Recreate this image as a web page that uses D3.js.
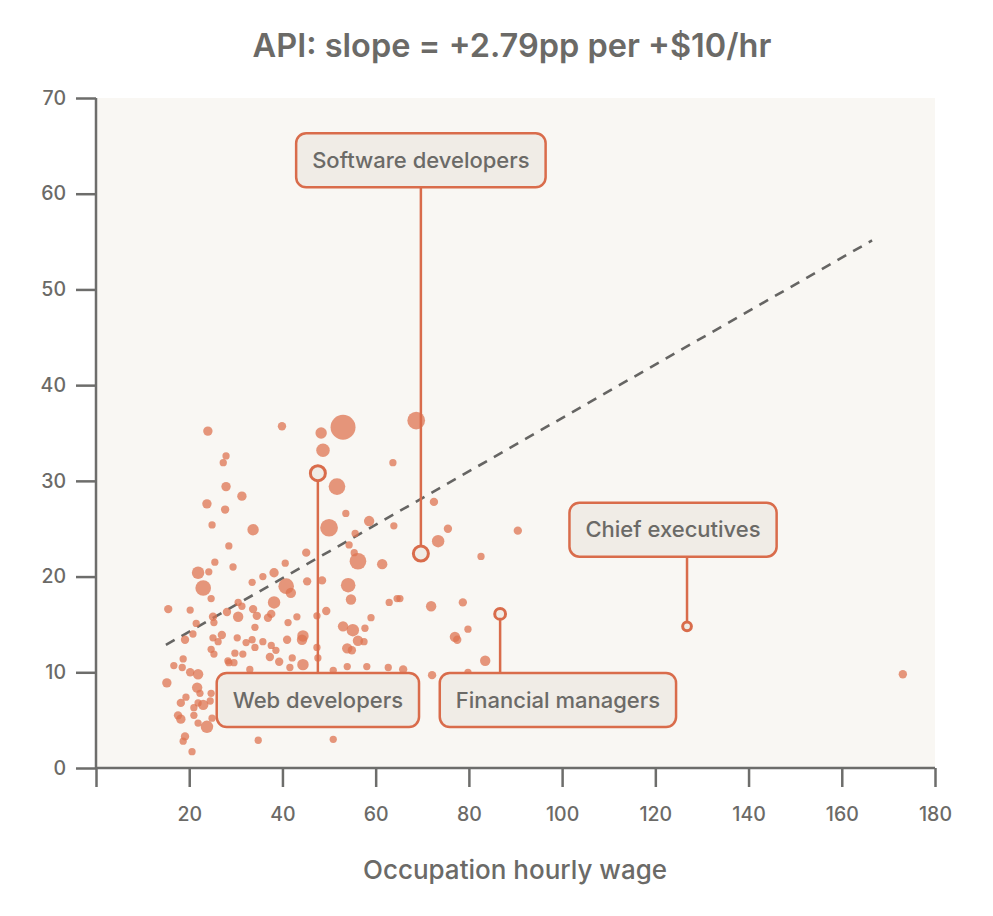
<!DOCTYPE html>
<html>
<head>
<meta charset="utf-8">
<script src="https://cdn.jsdelivr.net/npm/d3@7"></script>
<style>
  html, body { margin: 0; padding: 0; background: #ffffff; }
  svg { display: block; font-family: Inter, "Open Sans", sans-serif; }
</style>
</head>
<body>
<svg id="chart" width="993" height="916"></svg>
<script>
// ---- Data ----
const title = "API: slope = +2.79pp per +$10/hr";
const xAxisTitle = "Occupation hourly wage";
const xTicks = [0, 20, 40, 60, 80, 100, 120, 140, 160, 180];
const yTicks = [0, 10, 20, 30, 40, 50, 60, 70];

// occupation hourly wage
const wage = [
  24.0, 39.9, 53.0, 68.7, 48.3, 48.7, 27.9, 27.3, 27.9, 31.3,
  23.8, 27.7, 24.9, 33.7, 28.5, 63.7, 51.7, 53.6, 58.6, 50.0,
  55.6, 54.3, 55.4, 56.2, 45.1, 61.4, 63.9, 72.5, 73.4, 75.5,
  90.5, 82.6, 65.2, 71.9, 78.7, 79.8, 77.0, 77.5, 83.5, 65.9,
  72.1, 79.8, 25.5, 29.4, 21.9, 24.2, 40.6, 38.2, 35.8, 23.0,
  24.7, 15.5, 20.2, 30.5, 31.3, 28.1, 30.5, 33.5, 21.5, 25.1,
  25.3, 19.1, 20.8, 27.0, 25.1, 30.3, 26.2, 24.7, 25.3, 32.2,
  29.8, 31.5, 33.5, 18.7, 28.3, 29.6, 40.8, 41.8, 45.3, 38.2,
  33.7, 34.5, 37.6, 36.9, 41.2, 43.1, 34.1, 49.4, 47.4, 44.4,
  44.2, 41.0, 35.8, 37.6, 38.6, 34.1, 47.4, 42.1, 37.3, 39.3,
  47.6, 44.4, 54.1, 54.7, 62.9, 64.6, 59.0, 57.7, 55.1, 53.0,
  56.2, 57.5, 53.9, 54.9, 58.1, 62.7, 50.9, 53.9, 50.9, 16.7,
  18.5, 20.2, 21.9, 15.2, 21.7, 24.7, 22.3, 19.3, 18.2, 21.9,
  23.0, 21.0, 24.5, 17.6, 18.2, 21.0, 21.9, 23.8, 24.9, 19.1,
  18.7, 20.6, 28.5, 34.8, 173.1, 33.0, 41.6, 48.5
];
// share (%) of API usage
const share = [
  35.2, 35.7, 35.6, 36.3, 35.0, 33.2, 32.6, 31.9, 29.4, 28.4,
  27.6, 27.0, 25.4, 24.9, 23.2, 31.9, 29.4, 26.6, 25.8, 25.1,
  24.5, 23.3, 22.5, 21.6, 22.5, 21.3, 25.3, 27.8, 23.7, 25.0,
  24.8, 22.1, 17.7, 16.9, 17.3, 14.5, 13.7, 13.4, 11.2, 10.3,
  9.7, 10.0, 21.5, 21.0, 20.4, 20.5, 21.4, 20.4, 20.0, 18.8,
  17.7, 16.6, 16.5, 17.3, 16.9, 16.3, 15.8, 19.4, 15.1, 15.8,
  15.2, 13.4, 14.0, 13.9, 13.6, 13.6, 13.2, 12.4, 11.9, 13.1,
  12.0, 11.9, 13.4, 11.4, 11.2, 11.0, 19.0, 18.3, 19.5, 17.3,
  16.6, 15.9, 16.1, 15.7, 15.2, 15.8, 14.7, 16.4, 15.9, 13.8,
  13.4, 13.4, 13.2, 12.8, 12.3, 12.6, 12.6, 11.5, 11.6, 11.1,
  11.5, 10.8, 19.1, 17.6, 17.3, 17.7, 15.7, 14.6, 14.4, 14.8,
  13.3, 13.2, 12.5, 12.3, 10.6, 10.5, 10.2, 10.6, 3.0, 10.7,
  10.5, 10.0, 9.8, 8.9, 8.4, 7.8, 7.8, 7.4, 6.8, 6.8,
  6.6, 6.3, 7.0, 5.5, 5.1, 5.5, 4.7, 4.3, 5.2, 3.3,
  2.8, 1.7, 11.0, 2.9, 9.8, 10.3, 10.5, 19.6
];
// employment (thousands) -> bubble area
const employment = [
  390, 310, 2760, 1390, 580, 810, 235, 235, 390, 390,
  390, 310, 235, 580, 235, 235, 1230, 235, 480, 1390,
  235, 235, 235, 1230, 310, 480, 235, 310, 690, 310,
  310, 235, 235, 480, 310, 235, 480, 310, 480, 310,
  310, 235, 235, 235, 690, 235, 235, 390, 235, 1080,
  235, 310, 235, 235, 235, 310, 480, 235, 235, 310,
  235, 310, 235, 310, 235, 235, 235, 235, 235, 235,
  235, 235, 235, 235, 235, 235, 1080, 480, 310, 690,
  310, 310, 310, 310, 235, 235, 235, 310, 235, 580,
  480, 310, 235, 235, 235, 235, 235, 235, 310, 310,
  235, 580, 940, 480, 235, 235, 235, 235, 690, 480,
  480, 235, 480, 310, 235, 235, 235, 235, 235, 235,
  235, 310, 480, 390, 480, 235, 235, 235, 310, 235,
  480, 235, 235, 310, 390, 235, 235, 690, 235, 310,
  235, 235, 235, 235, 310, 235, 235, 310
];

// Highlighted occupations
const hlNames = ["Software developers", "Web developers", "Financial managers", "Chief executives"];
const hlWage  = [69.7, 47.6, 86.7, 126.8];
const hlShare = [22.4, 30.8, 16.1, 14.8];
const hlEmployment = [1000, 1000, 520, 340];

// Trend line
const trendSlope = 0.279;      // pp per $1/hr  (=2.79pp per $10/hr)
const trendIntercept = 8.67;
const trendRange = [15, 166.5];

// ---- Layout ----
const W = 993, H = 916;
const margin = { left: 96, right: 58, top: 98, bottom: 148 };
const innerW = W - margin.left - margin.right;   // 839
const innerH = H - margin.top - margin.bottom;   // 670

const svg = d3.select("#chart");
const g = svg.append("g").attr("transform", `translate(${margin.left},${margin.top})`);

const x = d3.scaleLinear().domain([0, 180]).range([0, innerW]);
const y = d3.scaleLinear().domain([0, 70]).range([innerH, 0]);
const r = d3.scaleSqrt().domain([0, 3000]).range([0, 13]);

const axisColor = "#6d6d6b";
const textColor = "#6b6a67";
const dotColor = "#dd7452";
const accent = "#d96c4b";
const boxFill = "#f0ece6";

// plot background
g.append("rect").attr("x", 0).attr("y", 0).attr("width", innerW).attr("height", innerH)
  .attr("fill", "#f9f7f3");

// title
svg.append("text").attr("x", 512).attr("y", 57).attr("text-anchor", "middle")
  .attr("font-size", 32.5).attr("font-weight", 600).attr("fill", textColor)
  .text(title);

// axes
const xAxis = d3.axisBottom(x).tickValues(xTicks).tickSize(19).tickPadding(20)
  .tickFormat(d => d === 0 ? "" : d);
const yAxis = d3.axisLeft(y).tickValues(yTicks).tickSize(20).tickPadding(10);

const gx = g.append("g").attr("transform", `translate(0,${innerH})`).call(xAxis);
const gy = g.append("g").call(yAxis);
[gx, gy].forEach(a => {
  a.select(".domain").attr("stroke", axisColor).attr("stroke-width", 2.5);
  a.selectAll(".tick line").attr("stroke", axisColor).attr("stroke-width", 2.5);
  a.selectAll(".tick text").attr("fill", textColor).attr("font-size", 19.5)
    .attr("font-family", "Inter, sans-serif").attr("font-weight", 500);
});
gx.select(".domain").attr("d", `M0,0H${innerW}`);
gy.select(".domain").attr("d", `M0,0V${innerH}`);

svg.append("text").attr("x", 515).attr("y", 879).attr("text-anchor", "middle")
  .attr("font-size", 26).attr("font-weight", 500).attr("fill", textColor)
  .text(xAxisTitle);

// trend line
g.append("line")
  .attr("x1", x(trendRange[0])).attr("y1", y(trendIntercept + trendSlope * trendRange[0]))
  .attr("x2", x(trendRange[1])).attr("y2", y(trendIntercept + trendSlope * trendRange[1]))
  .attr("stroke", "#666563").attr("stroke-width", 2.6).attr("stroke-dasharray", "10,8");

// dots
const pts = wage.map((w, i) => ({ w, s: share[i], e: employment[i] }));
g.append("g").selectAll("circle").data(pts).join("circle")
  .attr("cx", d => x(d.w)).attr("cy", d => y(d.s)).attr("r", d => r(d.e))
  .attr("fill", dotColor).attr("fill-opacity", 0.75);

// annotations: box center in data coordinates
const boxCenterWage  = [69.7, 47.6, 99.1, 123.8];
const boxCenterShare = [63.5, 7.1, 7.1, 24.9];
const boxH = 54;
const ann = g.append("g");
hlNames.forEach((name, i) => {
  const px = x(hlWage[i]), py = y(hlShare[i]);
  const bx = x(boxCenterWage[i]), by = y(boxCenterShare[i]);
  const t = ann.append("text").attr("x", bx).attr("y", by).attr("dy", "0.35em")
    .attr("text-anchor", "middle").attr("font-size", 22).attr("font-weight", 500)
    .attr("fill", textColor).text(name);
  const tw = t.node().getComputedTextLength();
  const bw = tw + 32;
  const edgeY = py < by ? by - boxH / 2 : by + boxH / 2;
  const pr = r(hlEmployment[i]);
  ann.insert("line", "text")
    .attr("x1", px).attr("x2", px)
    .attr("y1", py < by ? py + pr : py - pr)
    .attr("y2", edgeY)
    .attr("stroke", accent).attr("stroke-width", 2.5);
  ann.insert("rect", "text")
    .attr("x", bx - bw / 2).attr("y", by - boxH / 2).attr("width", bw).attr("height", boxH)
    .attr("rx", 10).attr("fill", boxFill).attr("stroke", accent).attr("stroke-width", 2.5);
  ann.append("circle").attr("cx", px).attr("cy", py).attr("r", pr)
    .attr("fill", boxFill).attr("stroke", accent).attr("stroke-width", 3);
});
</script>
</body>
</html>
